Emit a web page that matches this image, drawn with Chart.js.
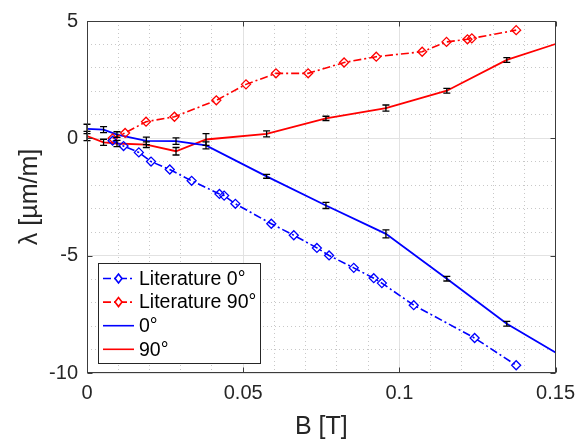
<!DOCTYPE html>
<html>
<head>
<meta charset="utf-8">
<script src="https://cdn.jsdelivr.net/npm/chart.js@4.4.0/dist/chart.umd.min.js"></script>
<style>
  html, body { margin: 0; padding: 0; background: #fff; }
  #wrap { width: 583px; height: 442px; position: relative; }
</style>
</head>
<body>
<div id="wrap"><canvas id="mycanvas"></canvas></div>
<script>
// literature data
var litB0 = [0.0082, 0.0117, 0.0166, 0.0205, 0.0265, 0.0335, 0.0424, 0.0439, 0.0475, 0.0590,
             0.0662, 0.0736, 0.0775, 0.0854, 0.0918, 0.0944, 0.1046, 0.1241, 0.1374];
var litL0 = [-0.10, -0.33, -0.60, -0.99, -1.33, -1.81, -2.37, -2.44, -2.79, -3.64,
             -4.13, -4.67, -4.99, -5.52, -5.96, -6.17, -7.11, -8.51, -9.67];
var litB90 = [0.0082, 0.0122, 0.0189, 0.0280, 0.0414, 0.0509, 0.0605, 0.0708, 0.0823, 0.0926,
              0.1073, 0.1151, 0.1218, 0.1232, 0.1374];
var litL90 = [0.00, 0.23, 0.71, 0.92, 1.62, 2.30, 2.77, 2.77, 3.23, 3.48,
              3.69, 4.11, 4.22, 4.26, 4.61];

// measured data
var measB = [0, 0.0053, 0.0096, 0.0190, 0.0285, 0.0381, 0.0575, 0.0765, 0.0957, 0.1152, 0.1344, 0.15];
var meas0 = [0.40, 0.37, 0.16, -0.11, -0.12, -0.30, -1.62, -2.86, -4.07, -5.98, -7.90, -9.13];
var err0 = [0.20, 0.13, 0.12, 0.16, 0.14, 0.15, 0.08, 0.13, 0.17, 0.10, 0.10, null];
var meas90 = [0.10, -0.17, -0.22, -0.27, -0.55, -0.05, 0.19, 0.85, 1.29, 2.03, 3.34, 4.02];
var err90 = [0.20, 0.13, 0.13, 0.12, 0.16, 0.25, 0.13, 0.09, 0.13, 0.10, 0.10, null];

var xTicks = [0, 0.05, 0.1, 0.15];
var yTicks = [-10, -5, 0, 5];

function pts(xs, ys) {
  var out = [];
  for (var i in xs) out.push({x: xs[i], y: ys[i]});
  return out;
}

function isMajor(v, list) {
  for (var i in list) if (Math.abs(v - list[i]) < 1e-6) return true;
  return false;
}

var FONT = '"Liberation Sans", Arial, sans-serif';
var TXT = '#262626';
var dashDot = [8, 3, 2, 3];

// error bars, box, inner ticks and legend
var extras = {
  id: 'extras',
  afterDatasetsDraw: function(chart) {
    var ctx = chart.ctx, xs = chart.scales.x, ys = chart.scales.y;
    ctx.save();
    ctx.strokeStyle = '#000';
    ctx.lineWidth = 1.3;
    chart.data.datasets.forEach(function(ds) {
      if (!ds.errors) return;
      ds.data.forEach(function(p, i) {
        var e = ds.errors[i];
        if (e == null) return;
        var px = xs.getPixelForValue(p.x);
        var t = ys.getPixelForValue(p.y + e), b = ys.getPixelForValue(p.y - e);
        ctx.beginPath();
        ctx.moveTo(px, t); ctx.lineTo(px, b);
        ctx.moveTo(px - 3.5, t); ctx.lineTo(px + 3.5, t);
        ctx.moveTo(px - 3.5, b); ctx.lineTo(px + 3.5, b);
        ctx.stroke();
      });
    });
    ctx.restore();
  },
  afterDraw: function(chart) {
    var ctx = chart.ctx, a = chart.chartArea, xs = chart.scales.x, ys = chart.scales.y;
    var L = Math.round(a.left) + 0.5, R = Math.round(a.right) - 0.5;
    var T = Math.round(a.top) + 0.5, B = Math.round(a.bottom) - 0.5;
    ctx.save();
    ctx.strokeStyle = '#3c3c3c';
    ctx.lineWidth = 1;
    ctx.strokeRect(L, T, R - L, B - T);
    ctx.beginPath();
    xTicks.forEach(function(v) {
      var px = Math.round(xs.getPixelForValue(v)) + 0.5;
      ctx.moveTo(px, B); ctx.lineTo(px, B - 5);
      ctx.moveTo(px, T); ctx.lineTo(px, T + 5);
    });
    yTicks.forEach(function(v) {
      var py = Math.round(ys.getPixelForValue(v)) + 0.5;
      ctx.moveTo(L, py); ctx.lineTo(L + 5, py);
      ctx.moveTo(R, py); ctx.lineTo(R - 5, py);
    });
    ctx.stroke();

    // legend
    var lx = 98.5, ly = 263.5, lw = 162, lh = 100;
    ctx.fillStyle = '#fff';
    ctx.fillRect(lx, ly, lw, lh);
    ctx.strokeStyle = '#262626';
    ctx.strokeRect(lx, ly, lw, lh);
    ctx.font = '19.5px ' + FONT;
    ctx.textBaseline = 'middle';
    chart.data.datasets.forEach(function(ds, i) {
      var cy = 278.5 + i * 23.6;
      ctx.strokeStyle = ds.borderColor;
      ctx.lineWidth = 1.6;
      ctx.setLineDash(ds.borderDash || []);
      ctx.beginPath();
      ctx.moveTo(103, cy); ctx.lineTo(134, cy);
      ctx.stroke();
      ctx.setLineDash([]);
      if (ds.pointRadius > 0) {
        ctx.fillStyle = '#fff';
        ctx.beginPath();
        ctx.moveTo(118.5 - 3.5, cy); ctx.lineTo(118.5, cy - 4.5);
        ctx.lineTo(118.5 + 3.5, cy); ctx.lineTo(118.5, cy + 4.5);
        ctx.closePath();
        ctx.fill(); ctx.stroke();
      }
      ctx.fillStyle = '#000';
      ctx.fillText(ds.label, 139, cy + 1);
    });
    ctx.restore();
  }
};

var chartdata = {
  datasets: [
    {
      label: 'Literature 0°',
      data: pts(litB0, litL0),
      borderColor: '#0000ff',
      backgroundColor: 'rgba(0,0,0,0)',
      borderWidth: 1.6,
      borderDash: dashDot,
      pointStyle: 'rectRot',
      pointRadius: 4.5,
      pointBorderWidth: 1.3,
      showLine: true
    },
    {
      label: 'Literature 90°',
      data: pts(litB90, litL90),
      borderColor: '#ff0000',
      backgroundColor: 'rgba(0,0,0,0)',
      borderWidth: 1.6,
      borderDash: dashDot,
      pointStyle: 'rectRot',
      pointRadius: 4.5,
      pointBorderWidth: 1.3,
      showLine: true
    },
    {
      label: '0°',
      data: pts(measB, meas0),
      errors: err0,
      borderColor: '#0000ff',
      borderWidth: 1.8,
      pointRadius: 0,
      showLine: true
    },
    {
      label: '90°',
      data: pts(measB, meas90),
      errors: err90,
      borderColor: '#ff0000',
      borderWidth: 1.8,
      pointRadius: 0,
      showLine: true
    }
  ]
};

var ctx = document.getElementById('mycanvas');
var LineGraph = new Chart(ctx, {
  type: 'scatter',
  data: chartdata,
  plugins: [extras],
  options: {
    responsive: true,
    maintainAspectRatio: false,
    animation: false,
    layout: { padding: { left: 0, right: 27, top: 20, bottom: 0 } },
    plugins: { legend: { display: false }, tooltip: { enabled: false } },
    scales: {
      x: {
        type: 'linear',
        min: 0, max: 0.15,
        afterFit: function(s) { s.height = 69; },
        ticks: {
          stepSize: 0.01,
          autoSkip: false,
          maxRotation: 0,
          padding: 8,
          color: TXT,
          font: { family: FONT, size: 20 },
          callback: function(v) { return isMajor(v, xTicks) ? String(Math.round(v * 100) / 100) : ''; }
        },
        grid: {
          drawTicks: false,
          lineWidth: 1,
          color: function(c) { return c.tick && isMajor(c.tick.value, xTicks) ? '#e2e2e2' : '#c8c8c8'; }
        },
        border: {
          display: false,
          dash: function(c) { return c.tick && isMajor(c.tick.value, xTicks) ? [] : [1, 3]; }
        },
        title: {
          display: true,
          text: 'B [T]',
          color: TXT,
          font: { family: FONT, size: 25 },
          padding: { top: 0, bottom: 0 }
        }
      },
      y: {
        type: 'linear',
        min: -10, max: 5,
        afterFit: function(s) { s.width = 87; },
        ticks: {
          stepSize: 1,
          autoSkip: false,
          padding: 9,
          color: TXT,
          font: { family: FONT, size: 20 },
          callback: function(v) { return isMajor(v, yTicks) ? String(v) : ''; }
        },
        grid: {
          drawTicks: false,
          lineWidth: 1,
          color: function(c) { return c.tick && isMajor(c.tick.value, yTicks) ? '#e2e2e2' : '#c8c8c8'; }
        },
        border: {
          display: false,
          dash: function(c) { return c.tick && isMajor(c.tick.value, yTicks) ? [] : [1, 3]; }
        },
        title: {
          display: true,
          text: 'λ [µm/m]',
          color: TXT,
          font: { family: FONT, size: 25 },
          padding: { top: 15, bottom: 0 }
        }
      }
    }
  }
});
</script>
</body>
</html>
